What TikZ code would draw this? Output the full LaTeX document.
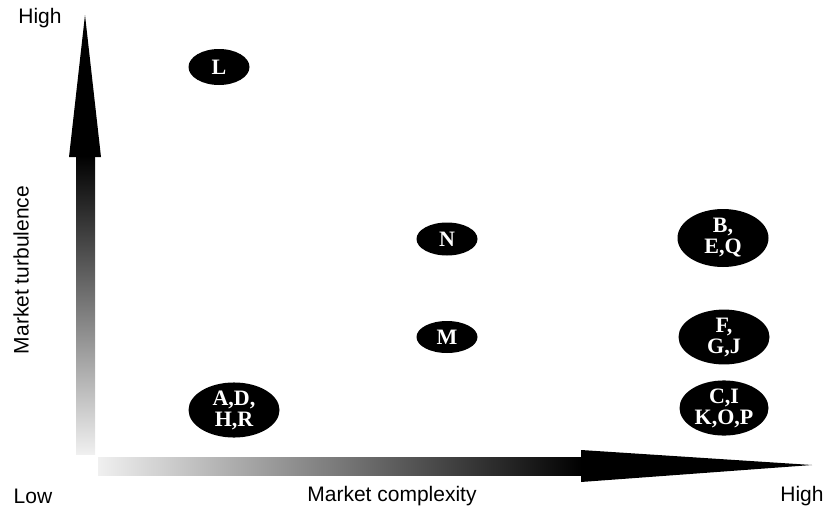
\documentclass[tikz,border=0pt]{standalone}
\usepackage{fontspec}
\setmainfont{Liberation Serif}
\newfontfamily\labfont{Liberation Sans}
\usetikzlibrary{shapes.geometric}
\begin{document}
\begin{tikzpicture}[x=1pt,y=-1pt,
  blob/.style={ellipse, fill=black, text=white, inner sep=0pt,
    font=\fontsize{22}{21}\selectfont\bfseries, align=center},
  axlab/.style={font=\labfont\fontsize{21}{24}\selectfont, text=black, inner sep=0pt}]
\useasboundingbox (0,0) rectangle (828,509);
% vertical arrow
\shade[top color=black, bottom color=gray!12] (76,155) rectangle (95,454);
\fill[black] (69,157) -- (85,15) -- (101,157) -- cycle;
% horizontal arrow
\shade[left color=gray!12, right color=black] (98,457) rectangle (583,475);
\fill[black] (581,450) -- (812,465) -- (581,482) -- cycle;
% ellipses
\node[blob, minimum width=61pt, minimum height=36pt] (L) at (219,67) {L};
\node[blob, minimum width=61pt, minimum height=33pt] (N) at (447,239) {N};
\node[blob, minimum width=61pt, minimum height=32pt] (M) at (447,337) {M};
\node[blob, minimum width=91pt, minimum height=58pt] (BEQ) at (723,238) {B,\\E,Q};
\node[blob, minimum width=91pt, minimum height=53pt] (FGJ) at (724,337) {F,\\G,J};
\node[blob, minimum width=89pt, minimum height=52pt] (CIKOP) at (724,408) {C,I\\K,O,P};
\node[blob, minimum width=91pt, minimum height=52pt] (ADHR) at (234,410) {A,D,\\H,R};
% axis labels
\node[axlab] (yhigh) at (40,18) {High};
\node[axlab] (low) at (33,496) {Low};
\node[axlab] (xlab) at (392,496) {Market complexity};
\node[axlab] (xhigh) at (802,496) {High};
\node[axlab, rotate=90] (ylab) at (21,270) {Market turbulence};
\end{tikzpicture}
\end{document}
